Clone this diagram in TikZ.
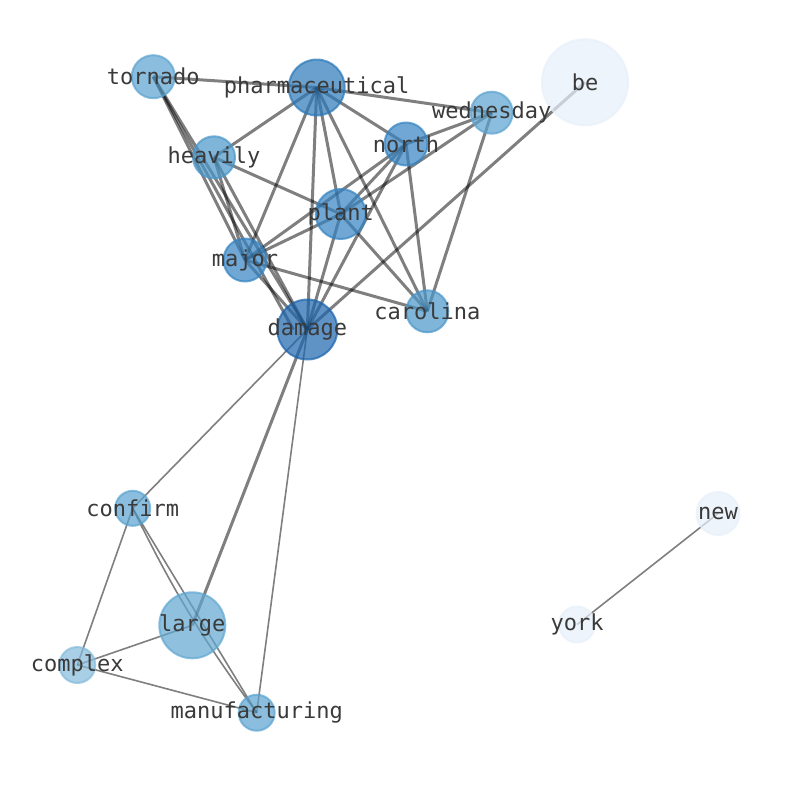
\documentclass[tikz,border=0pt]{standalone}
\usepackage{fontspec}
\setmonofont{DejaVu Sans Mono}
\definecolor{cdam}{HTML}{1C64AD}
\definecolor{cpha}{HTML}{2A78B9}
\definecolor{cmid}{HTML}{3483C2}
\definecolor{chea}{HTML}{4A97CA}
\definecolor{ctor}{HTML}{5BA3D0}
\definecolor{clar}{HTML}{60A7D2}
\definecolor{ccom}{HTML}{85BCDC}
\definecolor{cpale}{HTML}{E8F0FA}
\definecolor{labelc}{HTML}{3A3A3A}
\tikzset{
  nd/.style={circle, inner sep=0pt, minimum size=2*#1, line width=2pt, opacity=0.7},
  lab/.style={font=\ttfamily\fontsize{22}{22}\selectfont, text=labelc, inner sep=0pt},
  thick edge/.style={line width=3pt, draw=black, opacity=0.5},
  thin edge/.style={line width=1.6pt, draw=black, opacity=0.5}
}
\begin{document}
\begin{tikzpicture}[x=1pt,y=-1pt]
\useasboundingbox[fill=white] (0,0) rectangle (794,790);
% coordinates
\coordinate (tornado) at (153.3,76.7);
\coordinate (pharmaceutical) at (316.7,87.5);
\coordinate (be) at (585,82.3);
\coordinate (wednesday) at (491.7,112.7);
\coordinate (north) at (406,144);
\coordinate (heavily) at (214,157.3);
\coordinate (plant) at (340.7,214);
\coordinate (major) at (245,260);
\coordinate (carolina) at (427.3,311.3);
\coordinate (damage) at (307.3,329.5);
\coordinate (confirm) at (132.7,508.3);
\coordinate (large) at (192.3,625.3);
\coordinate (complex) at (77.3,665);
\coordinate (manufacturing) at (256.7,712.7);
\coordinate (new) at (718,513.5);
\coordinate (york) at (577,624.5);
% edges
\draw[thick edge] (tornado) -- (pharmaceutical);
\draw[thick edge] (tornado) -- (major);
\draw[thick edge] (tornado) -- (damage);
\draw[thick edge] (tornado) -- ([xshift=-14pt]damage);
\draw[thick edge] (pharmaceutical) -- (wednesday);
\draw[thick edge] (pharmaceutical) -- (heavily);
\draw[thick edge] (pharmaceutical) -- (major);
\draw[thick edge] (pharmaceutical) -- (damage);
\draw[thick edge] (pharmaceutical) -- (plant);
\draw[thick edge] (pharmaceutical) -- (north);
\draw[thick edge] (pharmaceutical) -- (carolina);
\draw[thick edge] (wednesday) -- (north);
\draw[thick edge] (wednesday) -- (plant);
\draw[thick edge] (wednesday) -- (carolina);
\draw[thick edge] (be) -- (damage);
\draw[thick edge] (north) -- (plant);
\draw[thick edge] (north) -- (major);
\draw[thick edge] (north) -- (damage);
\draw[thick edge] (north) -- (carolina);
\draw[thick edge] (heavily) -- (plant);
\draw[thick edge] (heavily) -- (major);
\draw[thick edge] (heavily) -- (damage);
\draw[thick edge] (major) -- (plant);
\draw[thick edge] (major) -- (carolina);
\draw[thick edge] (major) -- (damage);
\draw[thick edge] (plant) -- (damage);
\draw[thick edge] (plant) -- (carolina);
\draw[thin edge] (damage) -- (confirm);
\draw[line width=3pt, draw=black, opacity=0.5] (damage) -- (large);
\draw[thin edge] (damage) -- (manufacturing);
\draw[thin edge] (confirm) -- (complex);
\draw[thin edge] (confirm) -- (manufacturing);
\draw[thin edge] (confirm) to[bend right=5] (manufacturing);
\draw[thin edge] (complex) -- (large);
\draw[thin edge] (complex) -- (manufacturing);
\draw[thin edge] (new) -- (york);
% nodes
\node[nd=21.5pt, fill=ctor, draw=ctor] (n-tornado) at (tornado) {};
\node[nd=28pt, fill=cpha, draw=cpha] (n-pharmaceutical) at (pharmaceutical) {};
\node[nd=43pt, fill=cpale, draw=cpale] (n-be) at (be) {};
\node[nd=21pt, fill=ctor, draw=ctor] (n-wednesday) at (wednesday) {};
\node[nd=21.5pt, fill=cmid, draw=cmid] (n-north) at (north) {};
\node[nd=21pt, fill=chea, draw=chea] (n-heavily) at (heavily) {};
\node[nd=25pt, fill=cmid, draw=cmid] (n-plant) at (plant) {};
\node[nd=21.5pt, fill=cmid, draw=cmid] (n-major) at (major) {};
\node[nd=21pt, fill=chea, draw=chea] (n-carolina) at (carolina) {};
\node[nd=30pt, fill=cdam, draw=cdam] (n-damage) at (damage) {};
\node[nd=17.5pt, fill=ctor, draw=ctor] (n-confirm) at (confirm) {};
\node[nd=33pt, fill=clar, draw=clar] (n-large) at (large) {};
\node[nd=18pt, fill=ccom, draw=ccom] (n-complex) at (complex) {};
\node[nd=18pt, fill=ctor, draw=ctor] (n-manufacturing) at (manufacturing) {};
\node[nd=21.5pt, fill=cpale, draw=cpale] (n-new) at (new) {};
\node[nd=18pt, fill=cpale, draw=cpale] (n-york) at (york) {};
% labels
\node[lab] (l-tornado) at (tornado) {tornado};
\node[lab] (l-pharmaceutical) at (pharmaceutical) {pharmaceutical};
\node[lab] (l-be) at (be) {be};
\node[lab] (l-wednesday) at (wednesday) {wednesday};
\node[lab] (l-north) at (north) {north};
\node[lab] (l-heavily) at (heavily) {heavily};
\node[lab] (l-plant) at (plant) {plant};
\node[lab] (l-major) at (major) {major};
\node[lab] (l-carolina) at (carolina) {carolina};
\node[lab] (l-damage) at (damage) {damage};
\node[lab] (l-confirm) at (confirm) {confirm};
\node[lab] (l-large) at (large) {large};
\node[lab] (l-complex) at (complex) {complex};
\node[lab] (l-manufacturing) at (manufacturing) {manufacturing};
\node[lab] (l-new) at (new) {new};
\node[lab] (l-york) at (york) {york};
\end{tikzpicture}
\end{document}
